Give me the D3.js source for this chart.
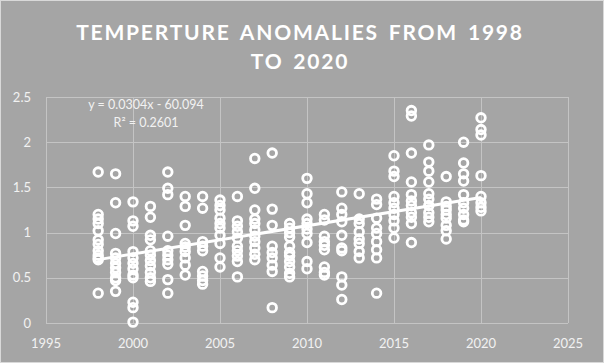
<!DOCTYPE html>
<html>
<head>
<meta charset="utf-8">
<script src="https://cdn.jsdelivr.net/npm/d3@7"></script>
<style>
  body { margin: 0; background: #a5a5a5; }
  svg { display: block; font-family: Lato, "Open Sans", sans-serif; }
</style>
</head>
<body>
<svg id="chart" width="604" height="363"></svg>
<script>
// anomalies per year
const years = [1998, 1999, 2000, 2001, 2002, 2003, 2004, 2005, 2006, 2007, 2008,
               2009, 2010, 2011, 2012, 2013, 2014, 2015, 2016, 2017, 2018, 2019, 2020];
const anomalies = [
  [1.67, 1.20, 1.15, 1.10, 1.02, 0.92, 0.87, 0.80, 0.75, 0.72, 0.70, 0.33],
  [1.65, 1.33, 0.99, 0.77, 0.72, 0.66, 0.61, 0.56, 0.50, 0.47, 0.35],
  [1.34, 1.13, 1.07, 0.79, 0.72, 0.66, 0.60, 0.53, 0.50, 0.23, 0.17, 0.01],
  [1.29, 1.17, 0.97, 0.92, 0.80, 0.75, 0.69, 0.63, 0.56, 0.50, 0.46],
  [1.67, 1.49, 1.42, 0.96, 0.80, 0.75, 0.70, 0.65, 0.48, 0.33],
  [1.40, 1.29, 1.08, 0.88, 0.84, 0.79, 0.72, 0.64, 0.53],
  [1.40, 1.27, 0.90, 0.85, 0.80, 0.57, 0.52, 0.47, 0.43],
  [1.36, 1.30, 1.25, 1.16, 1.10, 1.05, 0.97, 0.88, 0.72, 0.62],
  [1.40, 1.13, 1.07, 1.01, 0.94, 0.85, 0.80, 0.74, 0.68, 0.51],
  [1.82, 1.49, 1.25, 1.15, 1.10, 1.03, 0.96, 0.90, 0.83, 0.76, 0.70],
  [1.88, 1.26, 1.08, 0.85, 0.78, 0.72, 0.64, 0.57, 0.17],
  [1.10, 1.05, 1.00, 0.95, 0.85, 0.78, 0.74, 0.68, 0.62, 0.55, 0.51],
  [1.60, 1.43, 1.33, 1.15, 1.10, 1.04, 0.99, 0.89, 0.68, 0.60],
  [1.20, 1.14, 0.96, 0.90, 0.86, 0.81, 0.62, 0.56, 0.53],
  [1.45, 1.27, 1.20, 1.12, 0.97, 0.83, 0.80, 0.51, 0.42, 0.26],
  [1.43, 1.15, 1.10, 1.01, 0.93, 0.88, 0.79, 0.72],
  [1.37, 1.31, 1.16, 1.05, 0.99, 0.90, 0.81, 0.72, 0.33],
  [1.85, 1.68, 1.62, 1.40, 1.33, 1.27, 1.20, 1.13, 1.05, 0.94],
  [2.35, 2.29, 1.88, 1.56, 1.42, 1.35, 1.30, 1.22, 1.17, 1.10, 0.89],
  [1.97, 1.78, 1.68, 1.56, 1.43, 1.37, 1.30, 1.22, 1.17, 1.12],
  [1.62, 1.34, 1.29, 1.25, 1.20, 1.16, 1.08, 1.02, 0.93],
  [2.00, 1.77, 1.65, 1.57, 1.42, 1.33, 1.27, 1.20, 1.14, 1.12],
  [2.27, 2.14, 2.08, 1.63, 1.40, 1.33, 1.28, 1.24]
];
const xTicks = [1995, 2000, 2005, 2010, 2015, 2020, 2025];
const yTicks = [0, 0.5, 1, 1.5, 2, 2.5];
const titleLines = ["TEMPERTURE ANOMALIES FROM 1998", "TO 2020"];
const eqText = "y = 0.0304x - 60.094";
const r2Text = "R² = 0.2601";

const svg = d3.select("#chart");
const W = 604, H = 363;
const margin = { top: 97, right: 36, bottom: 40, left: 46 };

// outer frame
svg.append("rect").attr("x", 0.5).attr("y", 0.5).attr("width", W - 1).attr("height", H - 1)
  .attr("fill", "#a5a5a5").attr("stroke", "#d9d9d9");

const x = d3.scaleLinear().domain([1995, 2025]).range([margin.left, W - margin.right]);
const y = d3.scaleLinear().domain([0, 2.5]).range([H - margin.bottom, margin.top]);

// grid
const grid = svg.append("g").attr("stroke", "#c4c4c4").attr("stroke-width", 1);
grid.selectAll("line.h").data(yTicks).enter().append("line")
  .attr("x1", x(1995)).attr("x2", x(2025))
  .attr("y1", d => Math.round(y(d)) + 0.5).attr("y2", d => Math.round(y(d)) + 0.5);
grid.selectAll("line.v").data(xTicks).enter().append("line")
  .attr("y1", y(0)).attr("y2", y(2.5))
  .attr("x1", d => Math.round(x(d)) + 0.5).attr("x2", d => Math.round(x(d)) + 0.5);

// tick labels
svg.append("g").selectAll("text").data(yTicks).enter().append("text")
  .attr("x", 31).attr("y", d => y(d) + 4.5)
  .attr("text-anchor", "end").attr("fill", "#f2f2f2").style("font-size", "13px")
  .text(d => d);
svg.append("g").selectAll("text").data(xTicks).enter().append("text")
  .attr("x", d => x(d)).attr("y", 348)
  .attr("text-anchor", "middle").attr("fill", "#f2f2f2").style("font-size", "13px")
  .text(d => d);

// points
const pts = [];
years.forEach((yr, i) => anomalies[i].forEach(v => pts.push([yr, v])));

svg.append("g").selectAll("circle").data(pts).enter().append("circle")
  .attr("cx", d => x(d[0])).attr("cy", d => y(d[1]))
  .attr("r", 4.3).attr("fill", "none").attr("stroke", "#fff").attr("stroke-width", 2.8);

// linear trend from the points
const mx = d3.mean(pts, d => d[0]), my = d3.mean(pts, d => d[1]);
const slope = d3.sum(pts, d => (d[0] - mx) * (d[1] - my)) / d3.sum(pts, d => (d[0] - mx) ** 2);
const icpt = my - slope * mx;
const x0 = d3.min(years), x1 = d3.max(years);
svg.append("line")
  .attr("x1", x(x0)).attr("y1", y(icpt + slope * x0))
  .attr("x2", x(x1)).attr("y2", y(icpt + slope * x1))
  .attr("stroke", "#fff").attr("stroke-width", 3);

// equation label
svg.append("text").attr("x", 146).attr("y", 109).attr("text-anchor", "middle")
  .attr("fill", "#f2f2f2").style("font-size", "12.5px").text(eqText);
svg.append("text").attr("x", 146).attr("y", 127).attr("text-anchor", "middle")
  .attr("fill", "#f2f2f2").style("font-size", "12.5px").text(r2Text);

// title
svg.append("g").selectAll("text").data(titleLines).enter().append("text")
  .attr("x", W / 2 - 2).attr("y", (d, i) => 40 + i * 29)
  .attr("text-anchor", "middle").attr("fill", "#fff")
  .style("font-size", "21px").style("font-weight", "bold")
  .style("letter-spacing", "1.8px").style("word-spacing", "3px")
  .text(d => d);
</script>
</body>
</html>
